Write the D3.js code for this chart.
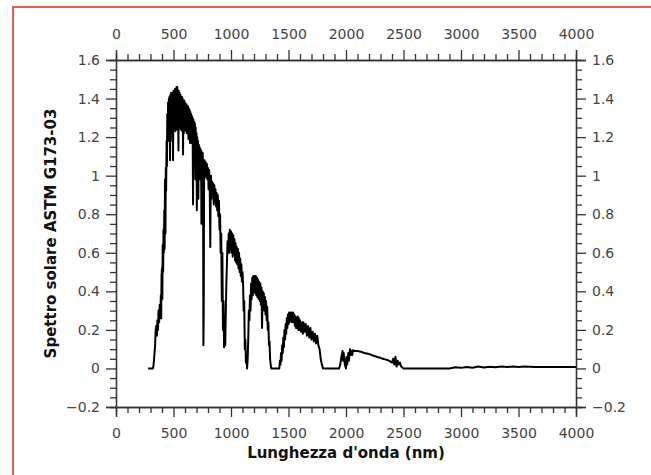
<!DOCTYPE html>
<html lang="it">
<head>
    <meta charset="UTF-8">
    <title>Spettro solare ASTM G173-03</title>
    <style>
        body {
            margin: 0;
            background: #fff;
            font-family: "DejaVu Sans", sans-serif;
        }
        #frame {
            position: absolute;
            left: 12px;
            top: 6px;
            width: 700px;
            height: 520px;
            border: 2px solid #f25a50;
        }
        #chart {
            position: absolute;
            left: 0;
            top: 0;
        }
        .axis-title {
            font-family: "DejaVu Sans", sans-serif;
            font-size: 15px;
            font-weight: bold;
            fill: #111;
        }
    </style>
</head>
<body>
    <div id="frame"></div>
    <div id="chart"></div>

    <script src="https://d3js.org/d3.v7.min.js"></script>
    <script>
        // Tick values and labels
        const xTicks = [0, 500, 1000, 1500, 2000, 2500, 3000, 3500, 4000];
        const yTicks = [-0.2, 0, 0.2, 0.4, 0.6, 0.8, 1, 1.2, 1.4, 1.6];
        const yTickLabels = ["\u22120.2", "0", "0.2", "0.4", "0.6", "0.8", "1", "1.2", "1.4", "1.6"];

        // Spectrum (nm, value)
        const wavelength = [
            280, 290, 300, 310, 320, 325, 330, 335, 340, 345, 350, 355, 360, 365, 370, 375, 380, 385, 390, 393,
            396, 400, 403, 406, 410, 413, 416, 420, 423, 426, 430, 433, 436, 440, 443, 446, 450, 453, 456, 460,
            463, 466, 470, 473, 476, 480, 483, 486, 490, 493, 496, 500, 503, 506, 510, 513, 516, 520, 523, 526,
            530, 533, 536, 540, 543, 546, 550, 553, 556, 560, 563, 566, 570, 573, 576, 580, 583, 586, 590, 593,
            596, 600, 603, 606, 610, 613, 616, 620, 623, 626, 630, 633, 636, 640, 643, 646, 650, 653, 656, 660,
            663, 666, 670, 673, 676, 680, 683, 686, 690, 693, 696, 700, 703, 706, 710, 713, 716, 720, 723, 726,
            730, 733, 736, 740, 743, 746, 750, 753, 757, 760, 763, 766, 770, 775, 780, 785, 790, 795, 800, 805,
            810, 815, 820, 823, 826, 830, 835, 840, 845, 850, 855, 860, 865, 870, 875, 880, 885, 890, 895, 900,
            905, 910, 915, 920, 925, 930, 935, 940, 945, 950, 955, 960, 965, 970, 975, 980, 985, 990, 995, 1000,
            1005, 1010, 1015, 1020, 1025, 1030, 1035, 1040, 1045, 1050, 1055, 1060, 1065, 1070, 1075, 1080, 1085, 1090, 1095, 1100,
            1105, 1110, 1115, 1120, 1125, 1130, 1135, 1140, 1145, 1150, 1155, 1160, 1165, 1170, 1175, 1180, 1185, 1190, 1195, 1200,
            1205, 1210, 1215, 1220, 1225, 1230, 1235, 1240, 1245, 1250, 1255, 1260, 1265, 1270, 1275, 1280, 1285, 1290, 1295, 1300,
            1305, 1310, 1315, 1320, 1325, 1330, 1335, 1340, 1345, 1350, 1370, 1390, 1410, 1420, 1425, 1430, 1435, 1440, 1445, 1450,
            1455, 1460, 1465, 1470, 1475, 1480, 1485, 1490, 1495, 1500, 1505, 1510, 1515, 1520, 1525, 1530, 1540, 1545, 1550, 1555,
            1560, 1565, 1570, 1575, 1580, 1585, 1590, 1595, 1600, 1610, 1620, 1625, 1630, 1640, 1650, 1660, 1670, 1680, 1690, 1700,
            1710, 1720, 1730, 1740, 1750, 1760, 1770, 1780, 1790, 1800, 1850, 1900, 1940, 1950, 1960, 1970, 1975, 1980, 1990, 2000,
            2005, 2010, 2020, 2025, 2035, 2040, 2050, 2055, 2060, 2080, 2100, 2120, 2140, 2160, 2180, 2200, 2220, 2240, 2260, 2280,
            2300, 2320, 2340, 2360, 2380, 2400, 2410, 2420, 2430, 2440, 2450, 2460, 2470, 2480, 2490, 2500, 2700, 2900, 2950, 3000,
            3050, 3100, 3150, 3200, 3250, 3300, 3350, 3400, 3450, 3500, 3550, 3600, 3650, 3700, 3800, 3900, 4000
        ];
        const irradiance = [
            0, 0, 0, 0, 0, 0.01, 0.04, 0.08, 0.12, 0.2, 0.22, 0.17, 0.25, 0.2, 0.3, 0.24, 0.33, 0.26, 0.38, 0.26,
            0.48, 0.52, 0.36, 0.64, 0.5, 0.72, 0.6, 0.82, 0.62, 0.98, 0.7, 1.04, 0.92, 1.18, 1.05, 1.32, 1.2, 1.38, 1.18, 1.4,
            1.22, 1.41, 1.08, 1.42, 1.23, 1.43, 1.24, 1.42, 1.18, 1.43, 1.08, 1.44, 1.24, 1.44, 1.25, 1.45, 1.23, 1.45, 1.25, 1.46,
            1.24, 1.46, 1.24, 1.44, 1.13, 1.44, 1.25, 1.43, 1.25, 1.42, 1.24, 1.41, 1.25, 1.41, 1.23, 1.4, 1.11, 1.39, 1.22, 1.39,
            1.24, 1.38, 1.24, 1.37, 1.23, 1.37, 1.22, 1.36, 1.23, 1.36, 1.19, 1.35, 1.22, 1.34, 1.17, 1.33, 1.22, 1.32, 1.17, 1.31,
            1.18, 1.3, 0.85, 1.29, 1.14, 1.28, 1.08, 1.27, 0.98, 1.25, 1.08, 1.22, 0.82, 1.2, 1.06, 1.18, 0.88, 1.16, 0.98, 1.15,
            1.02, 1.14, 0.98, 1.13, 0.75, 1.12, 1.02, 1.12, 1.06, 0.12, 0.3, 1.02, 1.08, 1.0, 1.07, 0.99, 1.06, 0.98, 1.04, 0.93,
            1.03, 0.95, 0.63, 0.93, 1.0, 0.88, 0.97, 0.9, 0.96, 0.85, 0.95, 0.87, 0.93, 0.84, 0.91, 0.82, 0.9, 0.79, 0.87, 0.72,
            0.8, 0.6, 0.7, 0.35, 0.6, 0.2, 0.35, 0.11, 0.2, 0.12, 0.3, 0.45, 0.55, 0.66, 0.6, 0.7, 0.6, 0.72, 0.62, 0.71,
            0.6, 0.7, 0.58, 0.69, 0.6, 0.67, 0.56, 0.65, 0.55, 0.63, 0.54, 0.62, 0.52, 0.6, 0.5, 0.57, 0.48, 0.54, 0.45, 0.5,
            0.44, 0.3, 0.35, 0.1, 0.15, 0.03, 0.05, 0.0, 0.05, 0.15, 0.3, 0.25, 0.38, 0.3, 0.44, 0.36, 0.47, 0.38, 0.48, 0.4,
            0.48, 0.39, 0.48, 0.38, 0.47, 0.37, 0.46, 0.36, 0.45, 0.35, 0.44, 0.33, 0.42, 0.21, 0.4, 0.32, 0.39, 0.3, 0.37, 0.28,
            0.35, 0.25, 0.32, 0.2, 0.24, 0.12, 0.14, 0.05, 0.02, 0.0, 0.0, 0.0, 0.0, 0.0, 0.04, 0.02, 0.08, 0.04, 0.12, 0.08,
            0.16, 0.11, 0.2, 0.15, 0.23, 0.18, 0.26, 0.21, 0.28, 0.23, 0.29, 0.24, 0.29, 0.25, 0.29, 0.24, 0.29, 0.24, 0.28, 0.22,
            0.27, 0.21, 0.26, 0.21, 0.27, 0.2, 0.26, 0.2, 0.25, 0.19, 0.24, 0.18, 0.24, 0.19, 0.23, 0.17, 0.22, 0.16, 0.21, 0.15,
            0.19, 0.14, 0.18, 0.13, 0.17, 0.12, 0.1, 0.05, 0.02, 0.0, 0.0, 0.0, 0.0, 0.02, 0.06, 0.09, 0.04, 0.08, 0.02, 0.0,
            0.06, 0.02, 0.08, 0.04, 0.1, 0.07, 0.09, 0.07, 0.095, 0.09, 0.09, 0.088, 0.085, 0.08, 0.078, 0.075, 0.07, 0.066, 0.062, 0.058,
            0.055, 0.05, 0.047, 0.044, 0.038, 0.03, 0.05, 0.02, 0.06, 0.01, 0.04, 0.02, 0.03, 0.01, 0.005, 0.0, 0.0, 0.0, 0.006, 0.003,
            0.008, 0.004, 0.01, 0.005, 0.009, 0.006, 0.01, 0.007, 0.01, 0.008, 0.01, 0.009, 0.008, 0.008, 0.008, 0.008, 0.008
        ];

        const width = 651, height = 475;
        const margin = { top: 60, right: 75, bottom: 68, left: 116 };
        const plotW = width - margin.left - margin.right;   // 460
        const plotH = height - margin.top - margin.bottom;  // 347

        const x = d3.scaleLinear().domain([0, 4000]).range([0, plotW]);
        const y = d3.scaleLinear().domain([-0.2, 1.6]).range([plotH, 0]);

        const svg = d3.select("#chart").append("svg")
            .attr("width", width)
            .attr("height", height);

        const g = svg.append("g")
            .attr("transform", `translate(${margin.left},${margin.top})`);

        // minor ticks: every 100 nm and every 0.05
        const xMinor = d3.range(0, 4001, 100).filter(v => v % 500 !== 0);
        const yMinor = d3.range(-4, 33).map(i => +(i * 0.05).toFixed(2)).filter(v => Math.abs(Math.round(v * 5) - v * 5) > 1e-6);

        const fmtY = v => yTickLabels[yTicks.findIndex(t => Math.abs(t - v) < 1e-9)];

        function styleAxis(sel) {
            sel.select(".domain").attr("stroke", "#333").attr("stroke-width", 1.3);
            sel.selectAll(".tick line").attr("stroke", "#333").attr("stroke-width", 1.3);
        }

        g.append("g").attr("transform", `translate(0,${plotH})`)
            .call(d3.axisBottom(x).tickValues(xMinor).tickSize(6).tickFormat(""))
            .call(styleAxis);
        g.append("g")
            .call(d3.axisTop(x).tickValues(xMinor).tickSize(6).tickFormat(""))
            .call(styleAxis);
        g.append("g")
            .call(d3.axisLeft(y).tickValues(yMinor).tickSize(6).tickFormat(""))
            .call(styleAxis);
        g.append("g").attr("transform", `translate(${plotW},0)`)
            .call(d3.axisRight(y).tickValues(yMinor).tickSize(6).tickFormat(""))
            .call(styleAxis);

        g.append("g").attr("transform", `translate(0,${plotH})`)
            .call(d3.axisBottom(x).tickValues(xTicks).tickSize(10).tickPadding(11).tickFormat(d3.format("d")))
            .call(styleAxis);
        g.append("g")
            .call(d3.axisTop(x).tickValues(xTicks).tickSize(10).tickPadding(11).tickFormat(d3.format("d")))
            .call(styleAxis);
        g.append("g")
            .call(d3.axisLeft(y).tickValues(yTicks).tickSize(10).tickPadding(6).tickFormat(fmtY))
            .call(styleAxis);
        g.append("g").attr("transform", `translate(${plotW},0)`)
            .call(d3.axisRight(y).tickValues(yTicks).tickSize(10).tickPadding(6).tickFormat(fmtY))
            .call(styleAxis);

        g.selectAll(".tick text")
            .style("font-family", "'DejaVu Sans', sans-serif")
            .style("font-size", "14px")
            .attr("fill", "#444");

        // spectrum
        const data = wavelength.map((w, i) => ({ w: w, v: irradiance[i] }));
        const line = d3.line()
            .x(d => x(d.w))
            .y(d => y(d.v));

        g.append("path")
            .datum(data)
            .attr("d", line)
            .attr("fill", "none")
            .attr("stroke", "#000")
            .attr("stroke-width", 2)
            .attr("stroke-linejoin", "round");

        // axis titles
        svg.append("text")
            .attr("class", "axis-title")
            .attr("x", margin.left + plotW / 2)
            .attr("y", 458)
            .attr("text-anchor", "middle")
            .text("Lunghezza d'onda (nm)");

        svg.append("text")
            .attr("class", "axis-title")
            .attr("transform", `translate(56,${margin.top + y(0.7)}) rotate(-90)`)
            .attr("text-anchor", "middle")
            .text("Spettro solare ASTM G173-03");
    </script>
</body>
</html>
